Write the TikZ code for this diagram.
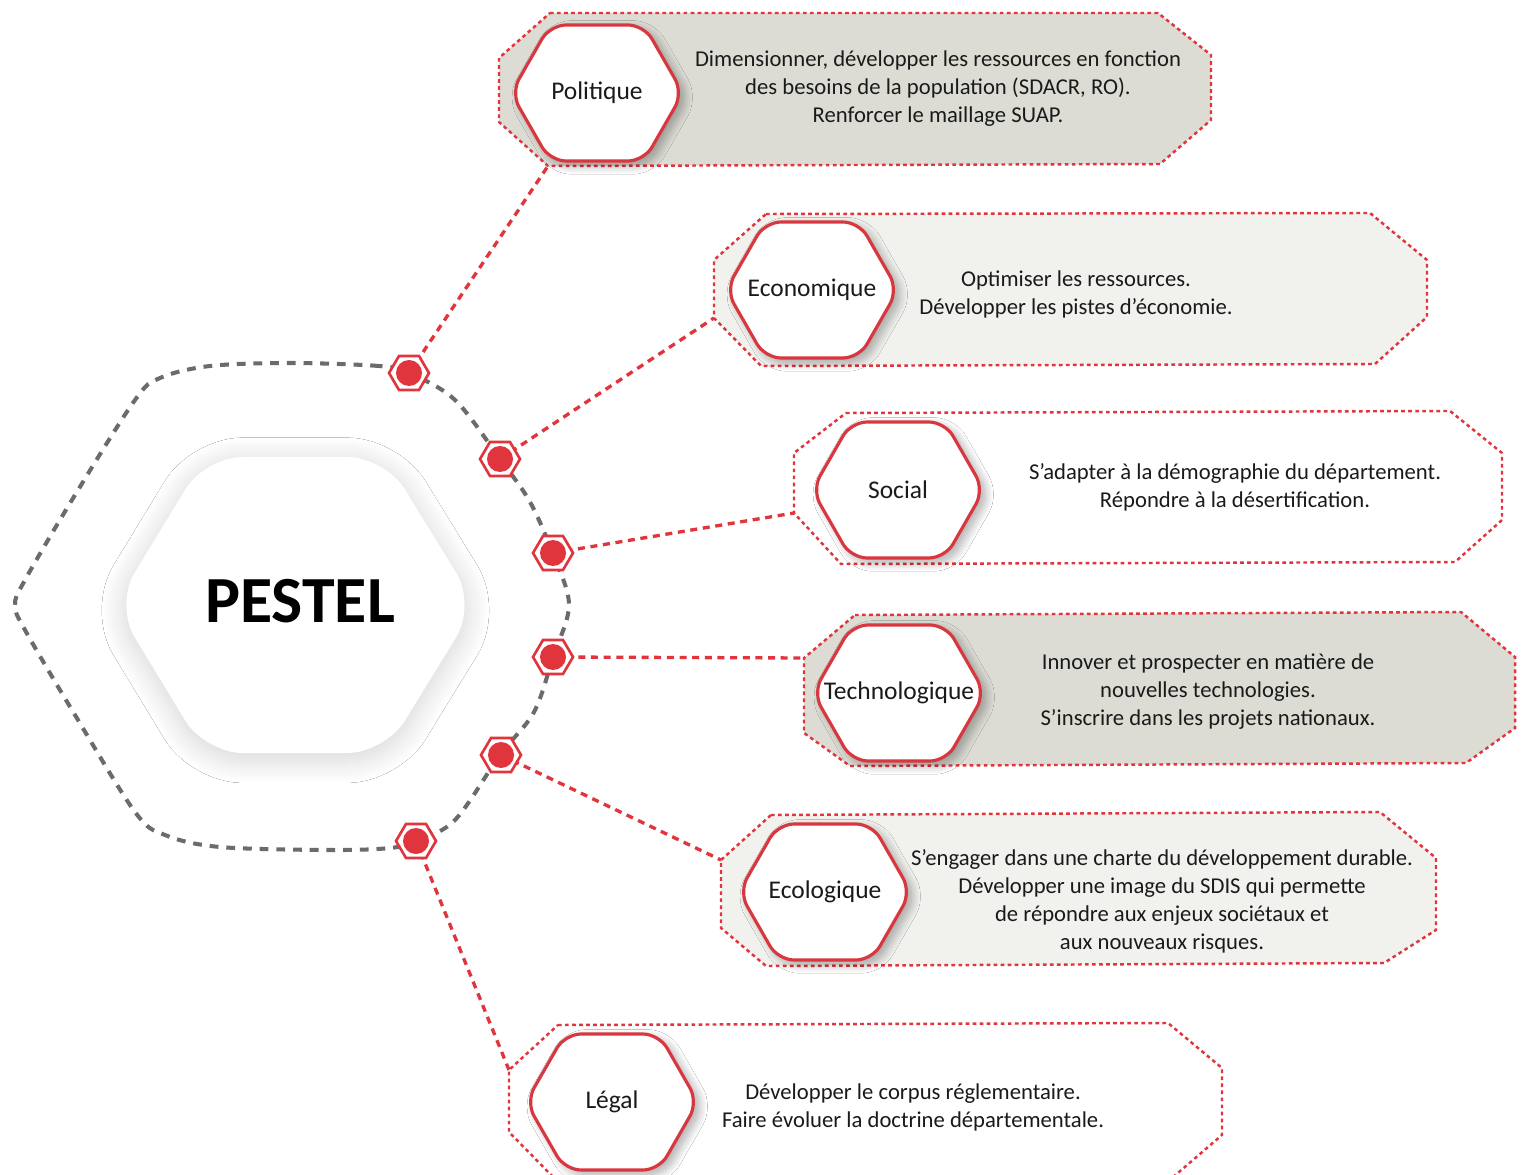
\documentclass[tikz,border=0pt]{standalone}
\usepackage{fontspec}
\setmainfont{Carlito}
\usetikzlibrary{shadows.blur}
\definecolor{pred}{HTML}{E0353D}
\definecolor{hred}{HTML}{D9373F}
\definecolor{pgrey}{HTML}{6B6B6B}
\definecolor{boxgrey}{HTML}{DCDCD5}
\definecolor{boxlight}{HTML}{F1F1EE}
\definecolor{txt}{HTML}{1A1A1A}
\newcommand\myhex[4]{% name, x, y, label
  \path[labelhex, shift={(#2,#3)}] (-86,0) -- (-47,-68) -- (47,-68) -- (86,0) -- (47,68) -- (-47,68) -- cycle;
  \node[labeltext] (#1) at (#2,#3) {#4};}
\newcommand\mydot[1]{% coordinate name
  \path[shift={(#1)}, fill=white, draw=pred, line width=1.5pt] (-20,0) -- (-10,-17) -- (10,-17) -- (20,0) -- (10,17) -- (-10,17) -- cycle;
  \fill[pred] (#1) circle (13);}
\begin{document}
\begin{tikzpicture}[x=0.02cm,y=-0.02cm,
  greydash/.style={draw=pgrey, line width=2.3pt, dash pattern=on 5pt off 4.5pt},
  reddash/.style={draw=pred, line width=1.9pt, dash pattern=on 4pt off 3.2pt},
  boxline/.style={draw=pred, line width=1.4pt, dash pattern=on 2.1pt off 1.9pt},
  labelhex/.style={fill=white, draw=hred, line width=1.8pt, rounded corners=0.32cm,
    blur shadow={shadow xshift=3pt, shadow yshift=-2.5pt, shadow blur radius=5pt, shadow blur steps=20, shadow opacity=35}},
  bodytext/.style={align=center, font=\fontsize{12.9}{15.9}\selectfont, text=txt},
  labeltext/.style={font=\fontsize{14.5}{17}\selectfont, text=txt}]
\useasboundingbox (0,0) rectangle (1521,1175);
\clip (0,0) rectangle (1521,1175);
\fill[white] (0,0) rectangle (1521,1175);

% dot positions
\coordinate (d1) at (409,373);
\coordinate (d2) at (500,459);
\coordinate (d3) at (553,553);
\coordinate (d4) at (553,657);
\coordinate (d5) at (501,755);
\coordinate (d6) at (416,841);

% grey dashed outline
\draw[greydash] plot[smooth cycle, tension=0.55] coordinates {
 (409,373) (379,366) (290,363) (210,366) (160,378) (135,400) (75,495) (25,580) (15,605)
 (25,630) (75,715) (135,812) (165,835) (220,847) (330,850) (390,848) (416,841)
 (455,820) (500,755) (534,712) (553,657) (569,605) (553,554) (530,502) (500,459) (455,400)};

% box anchor points
\coordinate (pb) at (548,166);
\coordinate (eb) at (714,318);
\coordinate (sb) at (794,513);
\coordinate (tb) at (804,658);
\coordinate (cb) at (721,860);
\coordinate (lb) at (509,1070);

% connectors
\draw[reddash] (d1) -- (pb);
\draw[reddash] (d2) -- (eb);
\draw[reddash] (d3) -- (sb);
\draw[reddash] (d4) -- (tb);
\draw[reddash] (d5) -- (cb);
\draw[reddash] (d6) -- (lb);

% dots
\mydot{d1}\mydot{d2}\mydot{d3}\mydot{d4}\mydot{d5}\mydot{d6}

% central hexagon
\path[fill=white, rounded corners=0.75cm,
  blur shadow={shadow xshift=0pt, shadow yshift=-3pt, shadow blur radius=14pt, shadow blur steps=25, shadow opacity=18}]
  (115,605) -- (205,457) -- (385,457) -- (476,605) -- (385,753) -- (205,753) -- cycle;
\node[font=\fontsize{37.5}{40}\selectfont\bfseries, text=black] (pestel) at (300,601) {PESTEL};

% boxes
\path[boxline, fill=boxgrey] (550,13) -- (1158,13) -- (1211,55) -- (1211,120) -- (1160,164) -- (pb) -- (499,122) -- (499,58) -- cycle;
\path[boxline, fill=boxlight] (766,214) -- (1370,213) -- (1427,260) -- (1427,317) -- (1375,364) -- (761,366) -- (eb) -- (714,260) -- cycle;
\path[boxline, fill=white] (846,413) -- (1450,411) -- (1502,453) -- (1502,520) -- (1455,562) -- (841,564) -- (sb) -- (794,453) -- cycle;
\path[boxline, fill=boxgrey] (855,615) -- (1461,612) -- (1515,657) -- (1515,728) -- (1466,763) -- (850,766) -- (804,733) -- (tb) -- cycle;
\path[boxline, fill=boxlight] (771,815) -- (1380,812) -- (1436,858) -- (1436,930) -- (1384,963) -- (766,966) -- (721,928) -- (cb) -- cycle;
\path[boxline, fill=white] (558,1025) -- (1168,1023) -- (1222,1068) -- (1222,1135) -- (1172,1178) -- (556,1180) -- (509,1132) -- (lb) -- cycle;

% label hexagons
\myhex{pol}{597}{93}{Politique}
\myhex{eco}{812}{290}{Economique}
\myhex{soc}{898}{490}{Social}
\myhex{tec}{899}{693}{Technologique}
\myhex{ecl}{825}{892}{Ecologique}
\myhex{leg}{612}{1102}{Légal}

% texts
\node[bodytext] (tpol) at (938,89) {Dimensionner, développer les ressources en fonction\\des besoins de la population (SDACR, RO).\\Renforcer le maillage SUAP.};
\node[bodytext] (teco) at (1076,294) {Optimiser les ressources.\\Développer les pistes d’économie.};
\node[bodytext] (tsoc) at (1235,487) {S’adapter à la démographie du département.\\Répondre à la désertification.};
\node[bodytext] (ttec) at (1208,692) {Innover et prospecter en matière de\\nouvelles technologies.\\S’inscrire dans les projets nationaux.};
\node[bodytext] (tecl) at (1162,901) {S’engager dans une charte du développement durable.\\Développer une image du SDIS qui permette\\de répondre aux enjeux sociétaux et\\aux nouveaux risques.};
\node[bodytext] (tleg) at (913,1107) {Développer le corpus réglementaire.\\Faire évoluer la doctrine départementale.};
\end{tikzpicture}
\end{document}
